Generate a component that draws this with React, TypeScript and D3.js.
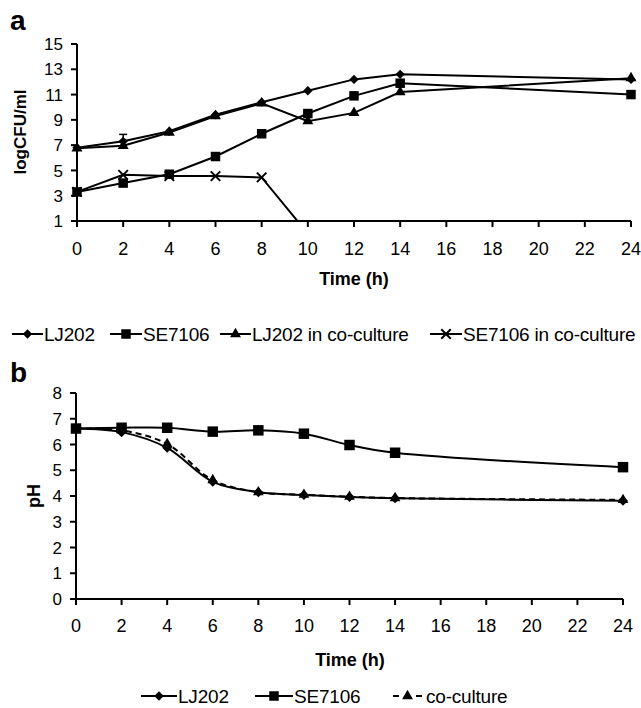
import React from 'react'
import * as d3 from 'd3'

// sampling times (h)
const TIME = [0, 2, 4, 6, 8, 10, 12, 14, 24]
const TIME_TICKS = [0, 2, 4, 6, 8, 10, 12, 14, 16, 18, 20, 22, 24]

// panel a: logCFU/ml
const cfuTicks = [1, 3, 5, 7, 9, 11, 13, 15]
const lj202Cfu = [6.8, 7.3, 8.1, 9.4, 10.4, 11.3, 12.2, 12.6, 12.2]
const se7106Cfu = [3.3, 4.0, 4.7, 6.1, 7.9, 9.5, 10.9, 11.9, 11.0]
const lj202CoCfu = [6.75, 6.95, 8.0, 9.3, 10.3, 8.9, 9.55, 11.2, 12.3]
const se7106CoCfu = [3.3, 4.65, 4.55, 4.55, 4.45, 0] // 0..10 h, falls below detection
const lj202ErrAt2 = 0.55

// panel b: pH
const phTicks = [0, 1, 2, 3, 4, 5, 6, 7, 8]
const lj202Ph = [6.62, 6.48, 5.87, 4.55, 4.15, 4.04, 3.96, 3.91, 3.82]
const se7106Ph = [6.62, 6.65, 6.65, 6.5, 6.55, 6.42, 5.98, 5.68, 5.12]
const coPh = [6.62, 6.55, 6.02, 4.62, 4.15, 4.05, 3.97, 3.92, 3.85]

const FONT = '"Liberation Sans", Arial, sans-serif'

const xSym = {
  draw(ctx: any, size: number) {
    const r = Math.sqrt(size) / 2
    ctx.moveTo(-r, -r)
    ctx.lineTo(r, r)
    ctx.moveTo(-r, r)
    ctx.lineTo(r, -r)
  }
}

function Marker({ kind, x, y, big }: { kind: string; x: number; y: number; big?: boolean }) {
  if (kind === 'diamond') {
    const d = d3.symbol().type(d3.symbolSquare).size(big ? 50 : 44)()
    return <path d={d!} transform={`translate(${x},${y}) rotate(45)`} fill="#000" />
  }
  if (kind === 'square') {
    const d = d3.symbol().type(d3.symbolSquare).size(big ? 110 : 90)()
    return <path d={d!} transform={`translate(${x},${y})`} fill="#000" />
  }
  if (kind === 'triangle') {
    const d = d3.symbol().type(d3.symbolTriangle).size(big ? 50 : 52)()
    return <path d={d!} transform={`translate(${x},${y})`} fill="#000" />
  }
  const d = d3.symbol().type(xSym as any).size(90)()
  return <path d={d!} transform={`translate(${x},${y})`} fill="none" stroke="#000" strokeWidth={2} />
}

function Axes({ x, y, xTicks, yTicks, xLabelY }: any) {
  const [x0, x1] = x.range()
  const [y0, y1] = y.range()
  return (
    <g fontFamily={FONT}>
      <line x1={x0} x2={x1} y1={y0} y2={y0} stroke="#000" strokeWidth={2} />
      <line x1={x0} x2={x0} y1={y0 + 1} y2={y1} stroke="#000" strokeWidth={2} />
      {xTicks.map((t: number) => (
        <g key={'x' + t}>
          <line x1={x(t)} x2={x(t)} y1={y0} y2={y0 + 6} stroke="#000" strokeWidth={2} />
          <text x={x(t)} y={xLabelY} textAnchor="middle" fontSize={18}>{t}</text>
        </g>
      ))}
      {yTicks.map((t: number) => (
        <g key={'y' + t}>
          <line x1={x0 - 6} x2={x0} y1={y(t)} y2={y(t)} stroke="#000" strokeWidth={2} />
          <text x={x0 - 14} y={y(t)} dy="0.36em" textAnchor="end" fontSize={17}>{t}</text>
        </g>
      ))}
    </g>
  )
}

function Series({ x, y, times, values, kind, dash, curve, big, clip }: any) {
  const pts = values.map((v: number, i: number) => [times[i], v])
  const line = d3.line<number[]>()
    .x(d => x(d[0]))
    .y(d => y(d[1]))
    .curve(curve || d3.curveLinear)
  const [lo] = y.domain()
  return (
    <g clipPath={clip}>
      <path d={line(pts)!} fill="none" stroke="#000" strokeWidth={2} strokeDasharray={dash} />
      {pts.filter((p: number[]) => p[1] >= lo).map((p: number[], i: number) => (
        <Marker key={i} kind={kind} x={x(p[0])} y={y(p[1])} big={big} />
      ))}
    </g>
  )
}

function LegendItem({ x0, x1, kind, label, y, dashed }: any) {
  const mid = (x0 + x1) / 2
  return (
    <g>
      {dashed ? (
        <g stroke="#000" strokeWidth={2}>
          <line x1={x0} x2={x0 + 6} y1={y} y2={y} />
          <line x1={x1 - 6} x2={x1} y1={y} y2={y} />
        </g>
      ) : (
        <line x1={x0} x2={x1} y1={y} y2={y} stroke="#000" strokeWidth={2} />
      )}
      <Marker kind={kind} x={mid} y={y} />
      <text x={x1 + (dashed ? 4 : 1)} y={y} dy="0.36em" fontSize={19} fontFamily={FONT} letterSpacing={-0.2}>{label}</text>
    </g>
  )
}

export default function App() {
  // panel a scales
  const xa = d3.scaleLinear().domain([0, 24]).range([77, 631])
  const ya = d3.scaleLinear().domain([1, 15]).range([221, 44])
  // panel b scales
  const xb = d3.scaleLinear().domain([0, 24]).range([76, 623])
  const yb = d3.scaleLinear().domain([0, 8]).range([599, 393])
  const smooth = d3.curveCatmullRom.alpha(0.5)

  return (
    <svg width={641} height={708} style={{ position: 'absolute', left: 0, top: 0, background: '#fff' }}>
      <defs>
        <clipPath id="clipA">
          <rect x={70} y={30} width={570} height={221 - 30} />
        </clipPath>
      </defs>

      {/* ---- panel a ---- */}
      <text x={10} y={30} fontSize={28} fontWeight="bold" fontFamily={FONT}>a</text>
      <Axes x={xa} y={ya} xTicks={TIME_TICKS} yTicks={cfuTicks} xLabelY={255} />
      <text transform={`translate(26,132) rotate(-90)`} textAnchor="middle" fontSize={17} fontWeight="bold" fontFamily={FONT}>logCFU/ml</text>
      <text x={354} y={285} textAnchor="middle" fontSize={18} fontWeight="bold" fontFamily={FONT}>Time (h)</text>

      {/* error bar at 2 h for LJ202 */}
      <g stroke="#000" strokeWidth={1.5}>
        <line x1={xa(2)} x2={xa(2)} y1={ya(lj202Cfu[1] - lj202ErrAt2)} y2={ya(lj202Cfu[1] + lj202ErrAt2)} />
        <line x1={xa(2) - 4} x2={xa(2) + 4} y1={ya(lj202Cfu[1] + lj202ErrAt2)} y2={ya(lj202Cfu[1] + lj202ErrAt2)} />
      </g>
      <Series x={xa} y={ya} times={TIME} values={se7106CoCfu} kind="x" clip="url(#clipA)" />
      <Series x={xa} y={ya} times={TIME} values={se7106Cfu} kind="square" />
      <Series x={xa} y={ya} times={TIME} values={lj202CoCfu} kind="triangle" />
      <Series x={xa} y={ya} times={TIME} values={lj202Cfu} kind="diamond" />

      <LegendItem x0={12} x1={43} y={334} kind="diamond" label="LJ202" />
      <LegendItem x0={110} x1={142} y={334} kind="square" label="SE7106" />
      <LegendItem x0={220} x1={251} y={334} kind="triangle" label="LJ202 in co-culture" />
      <LegendItem x0={430} x1={462} y={334} kind="x" label="SE7106 in co-culture" />

      {/* ---- panel b ---- */}
      <text x={10} y={382} fontSize={28} fontWeight="bold" fontFamily={FONT}>b</text>
      <Axes x={xb} y={yb} xTicks={TIME_TICKS} yTicks={phTicks} xLabelY={632} />
      <text transform={`translate(40,496) rotate(-90)`} textAnchor="middle" fontSize={18} fontWeight="bold" fontFamily={FONT}>pH</text>
      <text x={350} y={666} textAnchor="middle" fontSize={18} fontWeight="bold" fontFamily={FONT}>Time (h)</text>

      <Series x={xb} y={yb} times={TIME} values={se7106Ph} kind="square" curve={smooth} big />
      <Series x={xb} y={yb} times={TIME} values={lj202Ph} kind="diamond" curve={smooth} big />
      <Series x={xb} y={yb} times={TIME} values={coPh} kind="triangle" curve={smooth} dash="6,4" big />

      <LegendItem x0={141} x1={177} y={696} kind="diamond" label="LJ202" />
      <LegendItem x0={255} x1={293} y={696} kind="square" label="SE7106" />
      <LegendItem x0={393} x1={422} y={696} kind="triangle" label="co-culture" dashed />
    </svg>
  )
}
